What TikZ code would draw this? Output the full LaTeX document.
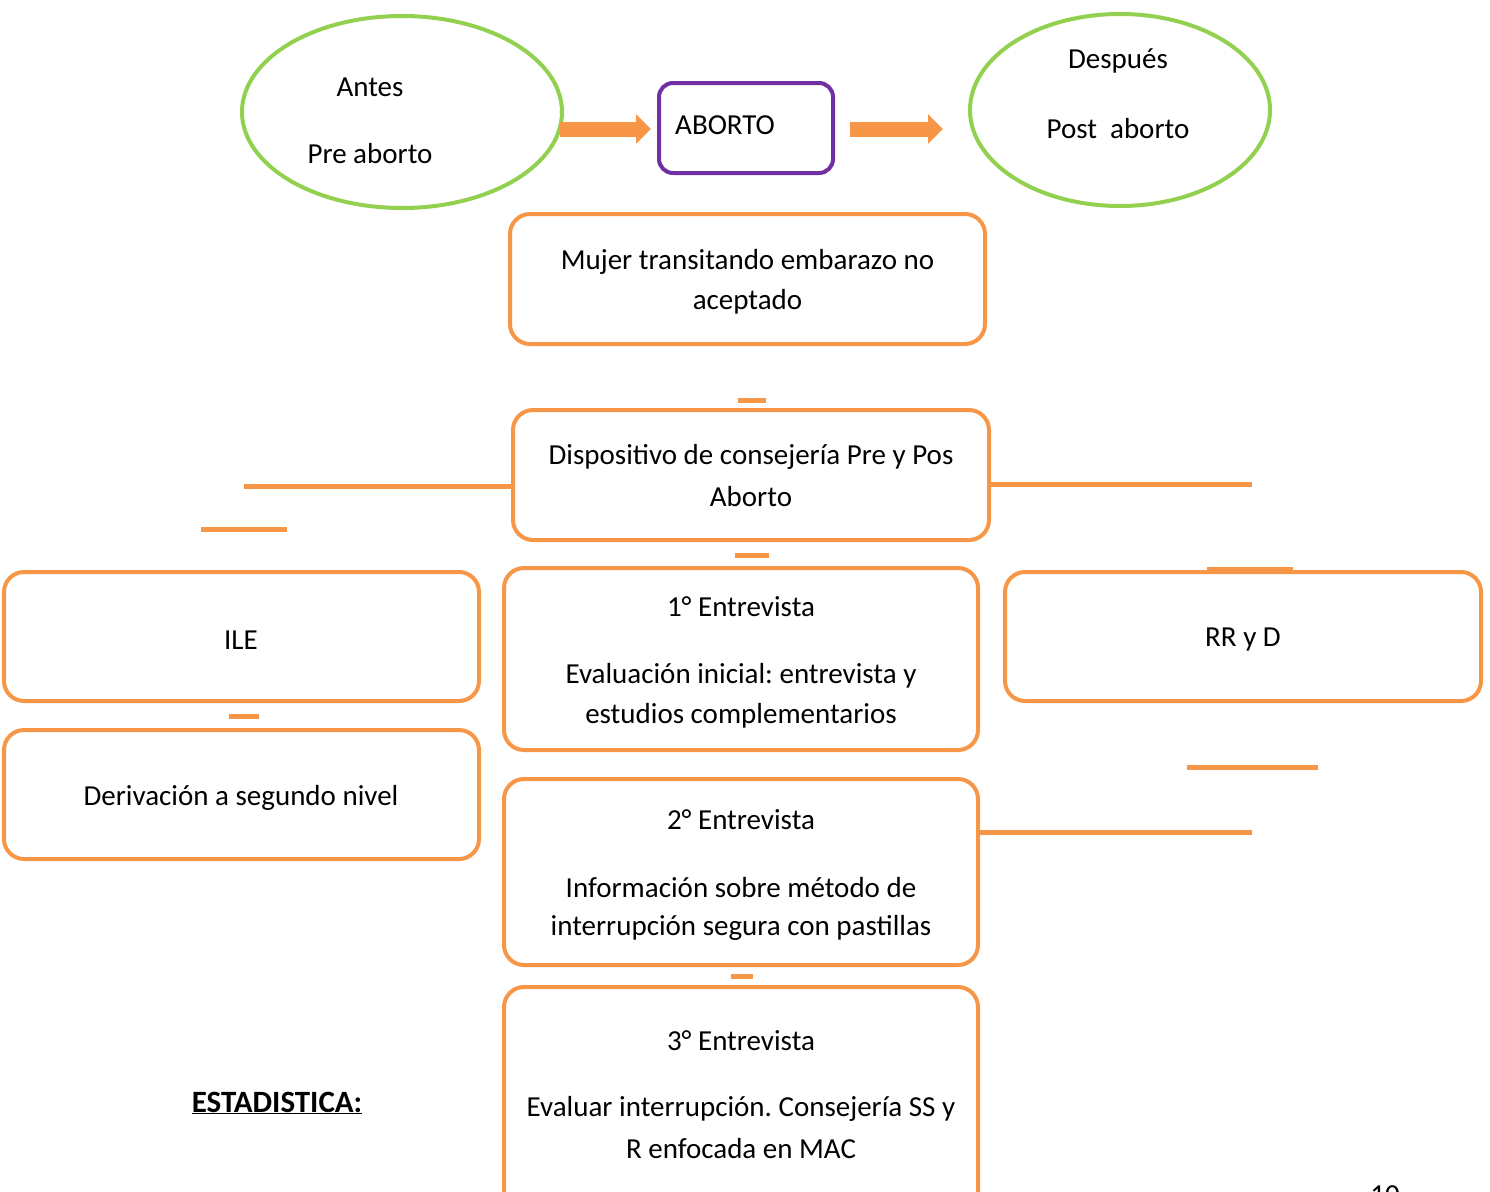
\documentclass[tikz,border=0pt]{standalone}
\usepackage{fontspec}
\setmainfont{Carlito}
\usetikzlibrary{arrows.meta,shapes.geometric}
\definecolor{org}{HTML}{F79646}
\definecolor{grn}{HTML}{92D050}
\definecolor{prp}{HTML}{7030A0}
\frenchspacing
\begin{document}
\begin{tikzpicture}[x=1pt,y=-1pt,
  every node/.style={font=\fontsize{29}{34}\selectfont\frenchspacing},
  box/.style={draw=org,line width=4pt,rounded corners=20pt,inner sep=0pt,fill=white},
  oval/.style={draw=grn,line width=4pt,ellipse,inner sep=0pt},
  lbl/.style={inner sep=0pt,anchor=center},
  bar/.style={draw=org,line width=5pt},
  blockarrow/.style={draw=org,line width=15pt,-{Triangle[length=15pt,width=29pt]}}]
\useasboundingbox (0,0) rectangle (1490,1191);

% ellipses
\node[oval,minimum width=320,minimum height=192] (antes) at (402,112) {};
\node[lbl] (antesA) at (370,87) {Antes};
\node[lbl] (antesB) at (370,154) {Pre aborto};
\node[oval,minimum width=300,minimum height=192] (desp) at (1120,110) {};
\node[lbl] (despA) at (1118,61) {Después};
\node[lbl] (despB) at (1118,129) {Post\ \ aborto};

% aborto
\node[draw=prp,line width=4pt,rounded corners=14pt,minimum width=174,minimum height=90,inner sep=0pt] (abort) at (746,128) {};
\node[lbl,anchor=west] (abortT) at (675,125) {ABORTO};

% arrows
\coordinate (a1s) at (560,129);
\coordinate (a1e) at (651,129);
\coordinate (a2s) at (850,129);
\coordinate (a2e) at (943,129);
\draw[blockarrow] (a1s) -- (a1e);
\draw[blockarrow] (a2s) -- (a2e);

% boxes
\node[box,minimum width=475,minimum height=130] (mujer) at (747.5,279) {};
\node[lbl] (mujerT1) at (747.5,262) {Mujer transitando embarazo no};
\node[lbl] (mujerT2) at (747.5,302) {aceptado};

\node[box,minimum width=476,minimum height=130] (disp) at (751,475) {};
\node[lbl] (dispT1) at (751,457) {Dispositivo de consejería Pre y Pos};
\node[lbl] (dispT2) at (751,497) {Aborto};

\node[box,minimum width=475,minimum height=129] (ile) at (241.5,636.5) {};
\node[lbl] (ileT) at (241,640) {ILE};

\node[box,minimum width=474,minimum height=182] (e1) at (741,659) {};
\node[lbl] (e1T1) at (741,607) {1° Entrevista};
\node[lbl] (e1T2) at (741,676) {Evaluación inicial: entrevista y};
\node[lbl] (e1T3) at (741,716) {estudios complementarios};

\node[box,minimum width=476,minimum height=129] (rr) at (1243,636.5) {};
\node[lbl] (rrT) at (1243,640) {RR y D};

\node[box,minimum width=475,minimum height=129] (deriv) at (241.5,794.5) {};
\node[lbl] (derivT) at (241,798) {Derivación a segundo nivel};

\node[box,minimum width=474,minimum height=186] (e2) at (741,872) {};
\node[lbl] (e2T1) at (741,820) {2° Entrevista};
\node[lbl] (e2T2) at (741,888) {Información sobre método de};
\node[lbl] (e2T3) at (741,928) {interrupción segura con pastillas};

\node[box,minimum width=474,minimum height=240] (e3) at (741,1107) {};
\node[lbl] (e3T1) at (741,1041) {3° Entrevista};
\node[lbl] (e3T2) at (741,1109) {Evaluar interrupción. Consejería SS y};
\node[lbl] (e3T3) at (741,1149) {R enfocada en MAC};

\node[lbl,font=\fontsize{31}{36}\selectfont] (estad) at (277,1103) {\underline{\textbf{ESTADISTICA:}}};
\node[anchor=base,inner sep=0pt] (pag) at (1385,1204) {10};

% lines and dashes
\coordinate (l1) at (244,486);
\draw[bar] (l1) -- (disp.west |- l1);
\coordinate (r1) at (1252,484);
\draw[bar] (disp.east |- r1) -- (r1);
\coordinate (r2) at (1252,832);
\draw[bar] (e2.east |- r2) -- (r2);

\coordinate (d1a) at (738,400); \coordinate (d1b) at (766,400);
\draw[bar] (d1a) -- (d1b);
\coordinate (d2a) at (201,529); \coordinate (d2b) at (287,529);
\draw[bar] (d2a) -- (d2b);
\coordinate (d3a) at (735,555); \coordinate (d3b) at (769,555);
\draw[bar] (d3a) -- (d3b);
\coordinate (d4a) at (1207,569); \coordinate (d4b) at (1293,569);
\draw[bar] (d4a) -- (d4b);
\coordinate (d5a) at (229,716); \coordinate (d5b) at (259,716);
\draw[bar] (d5a) -- (d5b);
\coordinate (d6a) at (1187,767); \coordinate (d6b) at (1318,767);
\draw[bar] (d6a) -- (d6b);
\coordinate (d7a) at (731,976); \coordinate (d7b) at (753,976);
\draw[bar] (d7a) -- (d7b);
\end{tikzpicture}
\end{document}
